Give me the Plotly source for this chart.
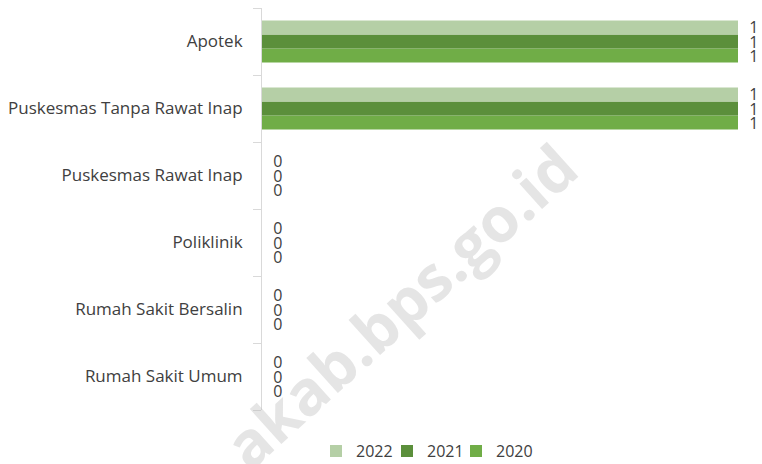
import plotly.graph_objects as go

categories = ["Apotek", "Puskesmas Tanpa Rawat Inap", "Puskesmas Rawat Inap",
              "Poliklinik", "Rumah Sakit Bersalin", "Rumah Sakit Umum"]
values_2022 = [1, 1, 0, 0, 0, 0]
values_2021 = [1, 1, 0, 0, 0, 0]
values_2020 = [1, 1, 0, 0, 0, 0]

series = [("2020", values_2020, "#70AD47", "legend3"),
          ("2021", values_2021, "#5B8F3B", "legend2"),
          ("2022", values_2022, "#B5CFA6", "legend")]

FONT = "Open Sans"
fig = go.Figure()
for name, vals, col, leg in series:
    fig.add_trace(go.Bar(
        y=categories, x=vals, name=name, orientation="h", legend=leg,
        marker=dict(color=col, line=dict(width=0)),
        texttemplate="\u00a0\u00a0%{x}", textposition="outside",
        textfont=dict(family=FONT, size=16, color="#404040"),
        cliponaxis=False, constraintext="none",
    ))

def leg(xp):
    return dict(orientation="h", x=xp, xanchor="left", y=-0.060, yanchor="top",
                font=dict(family=FONT, size=16, color="#404040"),
                itemwidth=30, bgcolor="rgba(0,0,0,0)")

fig.update_layout(
    width=762, height=464,
    margin=dict(l=262, r=24, t=8, b=54, autoexpand=False),
    paper_bgcolor="white", plot_bgcolor="white",
    barmode="group", bargap=0.37, bargroupgap=0,
    font=dict(family=FONT, size=15, color="#404040"),
    showlegend=True,
    legend=leg(0.1134), legend2=leg(0.2626), legend3=leg(0.4076),
    xaxis=dict(range=[0, 1], showgrid=False, showticklabels=False, zeroline=False,
               showline=False, ticks="", automargin=False, fixedrange=True),
    yaxis=dict(categoryorder="array", categoryarray=categories[::-1],
               showline=True, linecolor="#D9D9D9", linewidth=1,
               ticks="outside", ticklen=8, tickcolor="#D9D9D9",
               tickson="boundaries", ticklabelstandoff=15, automargin=False,
               showgrid=False, fixedrange=True,
               tickfont=dict(family=FONT, size=17, color="#404040")),
    annotations=[dict(text="<b>akab.bps.go.id</b>", xref="paper", yref="paper",
                      x=0.29, y=0.26, xanchor="center", yanchor="middle",
                      showarrow=False, textangle=-42,
                      font=dict(family="Open Sans", size=62, color="rgba(190,190,190,0.4)"))],
)

fig.write_html("out.html", config={"displayModeBar": False},
               post_script="document.body.style.margin='0';")
